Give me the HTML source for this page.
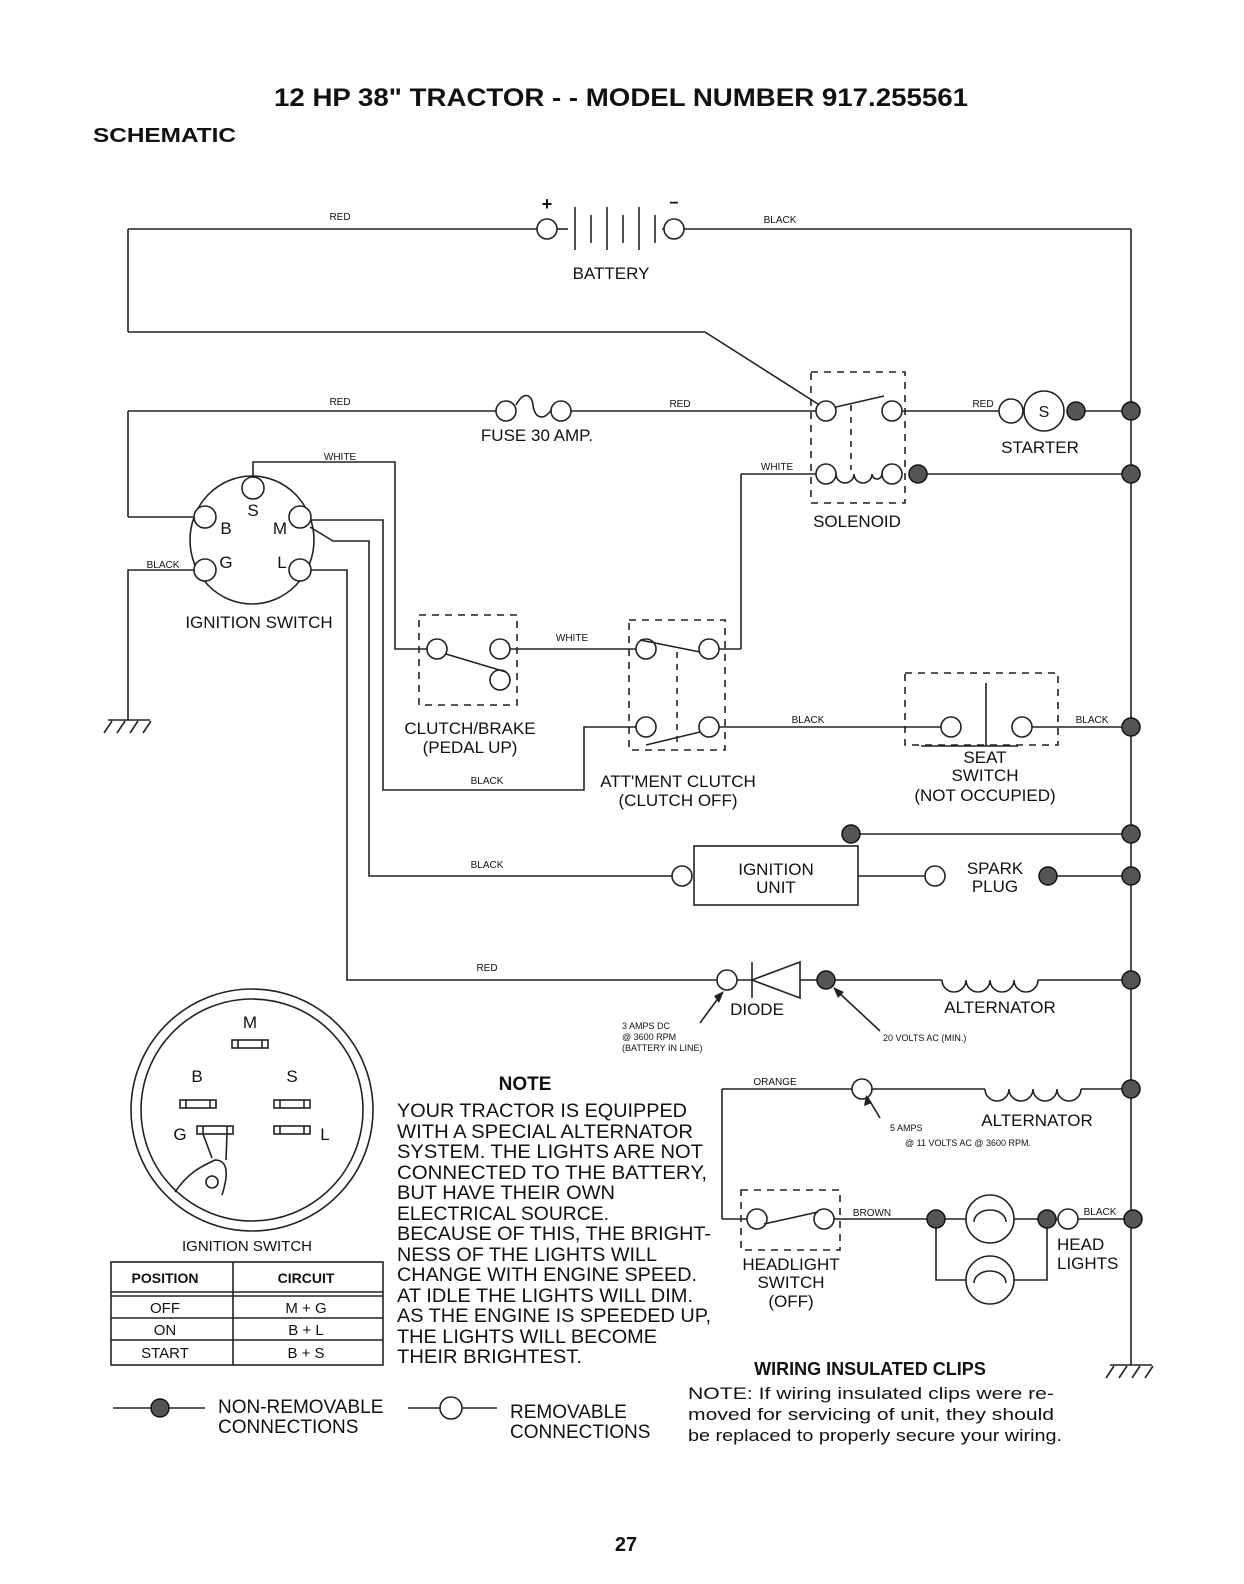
<!DOCTYPE html>
<html><head><meta charset="utf-8"><style>
html,body{margin:0;padding:0;background:#fff;}
svg{display:block;}
text{font-family:"Liberation Sans",Arial,sans-serif;fill:#111;}
.s{font-size:10px;}
.m{font-size:17px;}
.b{font-weight:bold;}
</style></head><body>
<svg width="1244" height="1584" viewBox="0 0 1244 1584" xmlns="http://www.w3.org/2000/svg">
<g fill="none" stroke="#222" stroke-width="1.6">
<line x1="128" y1="229" x2="537" y2="229"/>
<circle cx="547" cy="229" r="10" fill="#fff"/>
<line x1="557" y1="229" x2="568" y2="229"/>
<line x1="575" y1="207" x2="575" y2="250"/><line x1="591" y1="215" x2="591" y2="243"/>
<line x1="607" y1="207" x2="607" y2="250"/><line x1="623" y1="215" x2="623" y2="243"/>
<line x1="639" y1="207" x2="639" y2="250"/><line x1="655" y1="215" x2="655" y2="243"/>
<line x1="662" y1="229" x2="664" y2="229"/>
<circle cx="674" cy="229" r="10" fill="#fff"/>
<line x1="684" y1="229" x2="1131" y2="229"/>
<line x1="1131" y1="229" x2="1131" y2="1365"/>
<line x1="128" y1="229" x2="128" y2="332"/>
<line x1="128" y1="332" x2="705" y2="332"/>
<line x1="705" y1="332" x2="818" y2="404"/>
<line x1="128" y1="411" x2="496" y2="411"/>
<circle cx="506" cy="411" r="10" fill="#fff"/>
<path d="M516 405 C524 390 532 395 533 405 C535 420 545 420 551 410"/>
<circle cx="561" cy="411" r="10" fill="#fff"/>
<line x1="571" y1="411" x2="816" y2="411"/>
<line x1="128" y1="411" x2="128" y2="517"/>
<line x1="128" y1="517" x2="193" y2="517"/>
<rect x="811" y="372" width="94" height="131" stroke-dasharray="7,6"/>
<circle cx="826" cy="411" r="10" fill="#fff"/>
<circle cx="892" cy="411" r="10" fill="#fff"/>
<line x1="836" y1="407" x2="884" y2="396"/>
<line x1="851" y1="405" x2="851" y2="470" stroke-dasharray="6,6"/>
<circle cx="826" cy="474" r="10" fill="#fff"/>
<circle cx="892" cy="474" r="10" fill="#fff"/>
<path d="M836 474 a9 9 0 0 0 18 0 a9 9 0 0 0 18 0 a5 5 0 0 0 10 0"/>
<line x1="902" y1="411" x2="999" y2="411"/>
<circle cx="1011" cy="411" r="12" fill="#fff"/>
<circle cx="1044" cy="411" r="20" fill="#fff"/>
<line x1="1076" y1="411" x2="1131" y2="411"/>
<line x1="918" y1="474" x2="1131" y2="474"/>
<line x1="816" y1="474" x2="741" y2="474"/>
<line x1="741" y1="474" x2="741" y2="649"/>
<line x1="741" y1="649" x2="719" y2="649"/>
<ellipse cx="252" cy="540" rx="62" ry="64"/>
<circle cx="253" cy="488" r="11" fill="#fff"/>
<circle cx="205" cy="517" r="11" fill="#fff"/>
<circle cx="300" cy="517" r="11" fill="#fff"/>
<circle cx="205" cy="570" r="11" fill="#fff"/>
<circle cx="300" cy="570" r="11" fill="#fff"/>
<polyline points="253,477 253,462 395,462 395,649 427,649"/>
<polyline points="311,520 383,520 383,790 584,790 584,727 636,727"/>
<polyline points="310,527 333,541 369,541 369,876 672,876"/>
<polyline points="311,570 347,570 347,980 717,980"/>
<polyline points="194,570 128,570 128,720"/>
<line x1="108" y1="720" x2="150" y2="720"/>
<line x1="104" y1="733" x2="112" y2="721"/><line x1="117" y1="733" x2="125" y2="721"/><line x1="130" y1="733" x2="138" y2="721"/><line x1="143" y1="733" x2="151" y2="721"/>
<rect x="419" y="615" width="98" height="90" stroke-dasharray="7,6"/>
<circle cx="437" cy="649" r="10" fill="#fff"/>
<circle cx="500" cy="649" r="10" fill="#fff"/>
<circle cx="500" cy="680" r="10" fill="#fff"/>
<line x1="446" y1="654" x2="506" y2="672"/>
<line x1="510" y1="649" x2="636" y2="649"/>
<rect x="629" y="620" width="96" height="130" stroke-dasharray="7,6"/>
<circle cx="646" cy="649" r="10" fill="#fff"/>
<circle cx="709" cy="649" r="10" fill="#fff"/>
<circle cx="646" cy="727" r="10" fill="#fff"/>
<circle cx="709" cy="727" r="10" fill="#fff"/>
<line x1="640" y1="640" x2="700" y2="652"/>
<line x1="646" y1="745" x2="700" y2="732"/>
<line x1="677" y1="652" x2="677" y2="745" stroke-dasharray="6,6"/>
<line x1="719" y1="727" x2="941" y2="727"/>
<rect x="905" y="673" width="153" height="72" stroke-dasharray="7,6"/>
<circle cx="951" cy="727" r="10" fill="#fff"/>
<circle cx="1022" cy="727" r="10" fill="#fff"/>
<line x1="986" y1="683" x2="986" y2="746"/>
<line x1="921" y1="746" x2="1018" y2="746"/>
<line x1="1032" y1="727" x2="1131" y2="727"/>
<line x1="851" y1="834" x2="1131" y2="834"/>
<circle cx="682" cy="876" r="10" fill="#fff"/>
<rect x="694" y="846" width="164" height="59"/>
<line x1="858" y1="876" x2="925" y2="876"/>
<circle cx="935" cy="876" r="10" fill="#fff"/>
<line x1="1048" y1="876" x2="1131" y2="876"/>
<circle cx="727" cy="980" r="10" fill="#fff"/>
<line x1="737" y1="980" x2="826" y2="980"/>
<line x1="752" y1="962" x2="752" y2="998"/>
<polygon points="752,980 800,962 800,998" fill="#fff"/>
<line x1="826" y1="980" x2="942" y2="980"/>
<path d="M942 980 a12 12 0 0 0 24 0 a12 12 0 0 0 24 0 a12 12 0 0 0 24 0 a12 12 0 0 0 24 0"/>
<line x1="1038" y1="980" x2="1131" y2="980"/>
<line x1="700" y1="1023" x2="722" y2="993"/>
<line x1="880" y1="1031" x2="836" y2="990"/>
<line x1="722" y1="1089" x2="852" y2="1089"/>
<circle cx="862" cy="1089" r="10" fill="#fff"/>
<line x1="872" y1="1089" x2="985" y2="1089"/>
<path d="M985 1089 a12 12 0 0 0 24 0 a12 12 0 0 0 24 0 a12 12 0 0 0 24 0 a12 12 0 0 0 24 0"/>
<line x1="1081" y1="1089" x2="1131" y2="1089"/>
<line x1="722" y1="1089" x2="722" y2="1219"/>
<line x1="722" y1="1219" x2="747" y2="1219"/>
<line x1="880" y1="1118" x2="868" y2="1098"/>
<rect x="741" y="1190" width="99" height="60" stroke-dasharray="7,6"/>
<circle cx="757" cy="1219" r="10" fill="#fff"/>
<circle cx="824" cy="1219" r="10" fill="#fff"/>
<line x1="764" y1="1224" x2="818" y2="1212"/>
<line x1="834" y1="1219" x2="966" y2="1219"/>
<circle cx="990" cy="1219" r="24" fill="#fff"/>
<path d="M974 1222 a16 12 0 0 1 32 0"/>
<circle cx="990" cy="1280" r="24" fill="#fff"/>
<path d="M974 1283 a16 12 0 0 1 32 0"/>
<line x1="1014" y1="1219" x2="1058" y2="1219"/>
<circle cx="1068" cy="1219" r="10" fill="#fff"/>
<line x1="1078" y1="1219" x2="1131" y2="1219"/>
<polyline points="936,1219 936,1280 966,1280"/>
<polyline points="1014,1280 1047,1280 1047,1219"/>
<line x1="1110" y1="1365" x2="1152" y2="1365"/>
<line x1="1106" y1="1378" x2="1114" y2="1366"/><line x1="1119" y1="1378" x2="1127" y2="1366"/><line x1="1132" y1="1378" x2="1140" y2="1366"/><line x1="1145" y1="1378" x2="1153" y2="1366"/>
<circle cx="252" cy="1110" r="121"/>
<circle cx="252" cy="1110" r="111"/>
<rect x="232" y="1040" width="36" height="8"/><line x1="238" y1="1040" x2="238" y2="1048"/><line x1="262" y1="1040" x2="262" y2="1048"/>
<rect x="180" y="1100" width="36" height="8"/><line x1="186" y1="1100" x2="186" y2="1108"/><line x1="210" y1="1100" x2="210" y2="1108"/>
<rect x="274" y="1100" width="36" height="8"/><line x1="280" y1="1100" x2="280" y2="1108"/><line x1="304" y1="1100" x2="304" y2="1108"/>
<rect x="197" y="1126" width="36" height="8"/><line x1="203" y1="1126" x2="203" y2="1134"/><line x1="227" y1="1126" x2="227" y2="1134"/>
<rect x="274" y="1126" width="36" height="8"/><line x1="280" y1="1126" x2="280" y2="1134"/><line x1="304" y1="1126" x2="304" y2="1134"/>
<path d="M175 1192 C190 1170 205 1165 215 1160 C226 1160 230 1170 222 1195"/>
<line x1="203" y1="1134" x2="212" y2="1158"/><line x1="227" y1="1134" x2="226" y2="1160"/>
<circle cx="212" cy="1182" r="6"/>
<rect x="111" y="1262" width="272" height="103"/>
<line x1="233" y1="1262" x2="233" y2="1365"/>
<line x1="111" y1="1292" x2="383" y2="1292"/><line x1="111" y1="1296" x2="383" y2="1296"/>
<line x1="111" y1="1318" x2="383" y2="1318"/><line x1="111" y1="1340" x2="383" y2="1340"/>
<line x1="113" y1="1408" x2="205" y2="1408"/>
<line x1="408" y1="1408" x2="440" y2="1408"/>
<circle cx="451" cy="1408" r="11" fill="#fff"/>
<line x1="462" y1="1408" x2="497" y2="1408"/>
</g>
<g fill="#222">
<polygon points="724,991 714,996 719,1003"/>
<polygon points="833,987 838,998 844,992"/>
<polygon points="866,1095 864,1106 872,1103"/>
</g>
<g fill="#555" stroke="#111" stroke-width="1.5">
<circle cx="1076" cy="411" r="9"/><circle cx="1131" cy="411" r="9"/>
<circle cx="918" cy="474" r="9"/><circle cx="1131" cy="474" r="9"/>
<circle cx="1131" cy="727" r="9"/><circle cx="851" cy="834" r="9"/><circle cx="1131" cy="834" r="9"/>
<circle cx="1048" cy="876" r="9"/><circle cx="1131" cy="876" r="9"/>
<circle cx="826" cy="980" r="9"/><circle cx="1131" cy="980" r="9"/><circle cx="1131" cy="1089" r="9"/>
<circle cx="936" cy="1219" r="9"/><circle cx="1047" cy="1219" r="9"/><circle cx="1133" cy="1219" r="9"/>
<circle cx="160" cy="1408" r="9"/>
</g>
<text x="274" y="106" font-size="25" class="b" textLength="694" lengthAdjust="spacingAndGlyphs">12 HP 38" TRACTOR - - MODEL NUMBER 917.255561</text>
<text x="93" y="142" font-size="20" class="b" textLength="143" lengthAdjust="spacingAndGlyphs">SCHEMATIC</text>
<text x="547" y="210" text-anchor="middle" font-size="18" class="b">+</text>
<text x="674" y="208" text-anchor="middle" font-size="16" class="b">−</text>
<text x="611" y="279" text-anchor="middle" class="m">BATTERY</text>
<text x="340" y="220" text-anchor="middle" class="s">RED</text>
<text x="780" y="223" text-anchor="middle" class="s">BLACK</text>
<text x="340" y="405" text-anchor="middle" class="s">RED</text>
<text x="680" y="407" text-anchor="middle" class="s">RED</text>
<text x="537" y="441" text-anchor="middle" class="m">FUSE 30 AMP.</text>
<text x="983" y="407" text-anchor="middle" class="s">RED</text>
<text x="1044" y="417" text-anchor="middle" font-size="16">S</text>
<text x="1040" y="453" text-anchor="middle" class="m">STARTER</text>
<text x="777" y="470" text-anchor="middle" class="s">WHITE</text>
<text x="857" y="527" text-anchor="middle" class="m">SOLENOID</text>
<text x="340" y="460" text-anchor="middle" class="s">WHITE</text>
<text x="253" y="516" text-anchor="middle" class="m">S</text>
<text x="226" y="534" text-anchor="middle" class="m">B</text>
<text x="280" y="534" text-anchor="middle" class="m">M</text>
<text x="226" y="568" text-anchor="middle" class="m">G</text>
<text x="282" y="568" text-anchor="middle" class="m">L</text>
<text x="163" y="568" text-anchor="middle" class="s">BLACK</text>
<text x="259" y="628" text-anchor="middle" class="m">IGNITION SWITCH</text>
<text x="572" y="641" text-anchor="middle" class="s">WHITE</text>
<text x="470" y="734" text-anchor="middle" class="m">CLUTCH/BRAKE</text>
<text x="470" y="753" text-anchor="middle" class="m">(PEDAL UP)</text>
<text x="487" y="784" text-anchor="middle" class="s">BLACK</text>
<text x="678" y="787" text-anchor="middle" class="m">ATT'MENT CLUTCH</text>
<text x="678" y="806" text-anchor="middle" class="m">(CLUTCH OFF)</text>
<text x="808" y="723" text-anchor="middle" class="s">BLACK</text>
<text x="1092" y="723" text-anchor="middle" class="s">BLACK</text>
<text x="985" y="763" text-anchor="middle" class="m">SEAT</text>
<text x="985" y="781" text-anchor="middle" class="m">SWITCH</text>
<text x="985" y="801" text-anchor="middle" class="m">(NOT OCCUPIED)</text>
<text x="487" y="868" text-anchor="middle" class="s">BLACK</text>
<text x="776" y="875" text-anchor="middle" class="m">IGNITION</text>
<text x="776" y="893" text-anchor="middle" class="m">UNIT</text>
<text x="995" y="874" text-anchor="middle" class="m">SPARK</text>
<text x="995" y="892" text-anchor="middle" class="m">PLUG</text>
<text x="487" y="971" text-anchor="middle" class="s">RED</text>
<text x="757" y="1015" text-anchor="middle" class="m">DIODE</text>
<text x="1000" y="1013" text-anchor="middle" class="m">ALTERNATOR</text>
<text x="622" y="1029" font-size="9">3 AMPS DC</text>
<text x="622" y="1040" font-size="9">@ 3600 RPM</text>
<text x="622" y="1051" font-size="9">(BATTERY IN LINE)</text>
<text x="883" y="1041" font-size="9">20 VOLTS AC (MIN.)</text>
<text x="775" y="1085" text-anchor="middle" class="s">ORANGE</text>
<text x="1037" y="1126" text-anchor="middle" class="m">ALTERNATOR</text>
<text x="890" y="1131" font-size="9">5 AMPS</text>
<text x="905" y="1146" font-size="9">@ 11 VOLTS AC @ 3600 RPM.</text>
<text x="872" y="1216" text-anchor="middle" class="s">BROWN</text>
<text x="1100" y="1215" text-anchor="middle" class="s">BLACK</text>
<text x="1057" y="1250" class="m">HEAD</text>
<text x="1057" y="1269" class="m">LIGHTS</text>
<text x="791" y="1270" text-anchor="middle" class="m">HEADLIGHT</text>
<text x="791" y="1288" text-anchor="middle" class="m">SWITCH</text>
<text x="791" y="1307" text-anchor="middle" class="m">(OFF)</text>
<text x="250" y="1028" text-anchor="middle" class="m">M</text>
<text x="197" y="1082" text-anchor="middle" class="m">B</text>
<text x="292" y="1082" text-anchor="middle" class="m">S</text>
<text x="180" y="1140" text-anchor="middle" class="m">G</text>
<text x="325" y="1140" text-anchor="middle" class="m">L</text>
<text x="247" y="1251" text-anchor="middle" font-size="15">IGNITION SWITCH</text>
<text x="165" y="1283" text-anchor="middle" font-size="14" class="b">POSITION</text>
<text x="306" y="1283" text-anchor="middle" font-size="14" class="b">CIRCUIT</text>
<text x="165" y="1313" text-anchor="middle" font-size="15">OFF</text>
<text x="306" y="1313" text-anchor="middle" font-size="15">M + G</text>
<text x="165" y="1335" text-anchor="middle" font-size="15">ON</text>
<text x="306" y="1335" text-anchor="middle" font-size="15">B + L</text>
<text x="165" y="1358" text-anchor="middle" font-size="15">START</text>
<text x="306" y="1358" text-anchor="middle" font-size="15">B + S</text>
<text x="525" y="1090" text-anchor="middle" font-size="19" class="b">NOTE</text>
<g font-size="19">
<text x="397" y="1117" textLength="290" lengthAdjust="spacingAndGlyphs">YOUR TRACTOR IS EQUIPPED</text>
<text x="397" y="1138" textLength="296" lengthAdjust="spacingAndGlyphs">WITH A SPECIAL ALTERNATOR</text>
<text x="397" y="1158" textLength="306" lengthAdjust="spacingAndGlyphs">SYSTEM.  THE LIGHTS ARE NOT</text>
<text x="397" y="1179" textLength="310" lengthAdjust="spacingAndGlyphs">CONNECTED TO  THE BATTERY,</text>
<text x="397" y="1199" textLength="218" lengthAdjust="spacingAndGlyphs">BUT HAVE THEIR OWN</text>
<text x="397" y="1220" textLength="212" lengthAdjust="spacingAndGlyphs">ELECTRICAL SOURCE.</text>
<text x="397" y="1240" textLength="314" lengthAdjust="spacingAndGlyphs">BECAUSE OF THIS, THE BRIGHT-</text>
<text x="397" y="1261" textLength="260" lengthAdjust="spacingAndGlyphs">NESS OF THE LIGHTS WILL</text>
<text x="397" y="1281" textLength="300" lengthAdjust="spacingAndGlyphs">CHANGE WITH ENGINE SPEED.</text>
<text x="397" y="1302" textLength="296" lengthAdjust="spacingAndGlyphs">AT IDLE THE LIGHTS WILL DIM.</text>
<text x="397" y="1322" textLength="314" lengthAdjust="spacingAndGlyphs">AS THE ENGINE IS SPEEDED UP,</text>
<text x="397" y="1343" textLength="260" lengthAdjust="spacingAndGlyphs">THE LIGHTS WILL BECOME</text>
<text x="397" y="1363" textLength="185" lengthAdjust="spacingAndGlyphs">THEIR BRIGHTEST.</text>
</g>
<text x="870" y="1375" text-anchor="middle" font-size="18" class="b">WIRING INSULATED CLIPS</text>
<text x="688" y="1399" font-size="17" textLength="366" lengthAdjust="spacingAndGlyphs">NOTE: If wiring insulated clips  were  re-</text>
<text x="688" y="1420" font-size="17" textLength="366" lengthAdjust="spacingAndGlyphs">moved  for servicing  of  unit,  they should</text>
<text x="688" y="1441" font-size="17" textLength="374" lengthAdjust="spacingAndGlyphs">be replaced to properly secure your wiring.</text>
<text x="218" y="1413" font-size="19">NON-REMOVABLE</text>
<text x="218" y="1433" font-size="19">CONNECTIONS</text>
<text x="510" y="1418" font-size="19">REMOVABLE</text>
<text x="510" y="1438" font-size="19">CONNECTIONS</text>
<text x="626" y="1551" text-anchor="middle" font-size="20" class="b">27</text>
</svg>
</body></html>
